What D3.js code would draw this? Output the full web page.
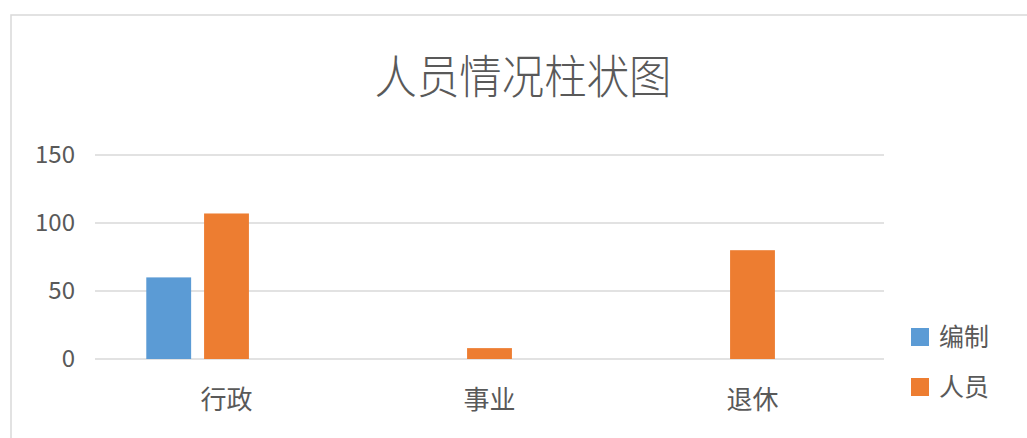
<!DOCTYPE html>
<html>
<head>
<meta charset="utf-8">
<script src="https://cdn.jsdelivr.net/npm/d3@7"></script>
<style>
  body { margin: 0; background: #fff; }
  text { font-family: "Noto Sans CJK SC", "Noto Sans", sans-serif; fill: #595959; }
</style>
</head>
<body>
<div id="chart"></div>
<script>
const categories = ["行政", "事业", "退休"]
const seriesNames = ["编制", "人员"]
const bianzhi = [60, 0, 0]
const renyuan = [107, 8, 80]
const yTicks = [0, 50, 100, 150]
const colors = ["#5B9BD5", "#ED7D31"]

const width = 1027
const height = 438
const margin = { top: 155, right: 143, bottom: 79, left: 95 }

const svg = d3.select("#chart").append("svg")
    .attr("width", width)
    .attr("height", height)

// chart border
svg.append("rect")
    .attr("x", 11).attr("y", 15)
    .attr("width", width + 10).attr("height", height + 10)
    .attr("fill", "none")
    .attr("stroke", "#d9d9d9")
    .attr("stroke-width", 1.5)

svg.append("text")
    .attr("x", 523).attr("y", 93)
    .attr("text-anchor", "middle")
    .attr("font-size", 46)
    .attr("font-weight", 300)
    .attr("textLength", 297)
    .attr("lengthAdjust", "spacingAndGlyphs")
    .text("人员情况柱状图")

const x0 = d3.scaleBand()
    .domain(categories)
    .range([margin.left, width - margin.right])
    .paddingInner(0.39)
    .paddingOuter(0.195)

// third empty slot keeps the group offset like the original
const x1 = d3.scaleBand()
    .domain([...seriesNames, "_"])
    .range([0, x0.bandwidth()])
    .paddingInner(0.224)

const y = d3.scaleLinear()
    .domain([0, 150])
    .range([height - margin.bottom, margin.top])

// gridlines
svg.append("g")
    .selectAll("line")
    .data(yTicks)
    .enter().append("line")
    .attr("x1", margin.left)
    .attr("x2", width - margin.right)
    .attr("y1", d => y(d))
    .attr("y2", d => y(d))
    .attr("stroke", "#d9d9d9")
    .attr("stroke-width", 1.5)

const yAxis = svg.append("g")
    .attr("transform", `translate(${margin.left - 20},0)`)
    .call(d3.axisLeft(y).tickValues(yTicks).tickSize(0).tickPadding(0))
yAxis.select(".domain").remove()
yAxis.selectAll("text")
    .attr("font-size", 24)
    .attr("font-family", "'Noto Sans', sans-serif")
    .attr("fill", "#595959")

const xAxis = svg.append("g")
    .attr("transform", `translate(0,${height - margin.bottom})`)
    .call(d3.axisBottom(x0).tickSize(0).tickPadding(32))
xAxis.select(".domain").remove()
xAxis.selectAll("text")
    .attr("font-size", 26)
    .attr("font-family", "'Noto Sans CJK SC', sans-serif")
    .attr("fill", "#595959")

const series = [bianzhi, renyuan]
series.forEach((vals, si) => {
    svg.append("g")
        .attr("fill", colors[si])
        .selectAll("rect")
        .data(vals)
        .enter().append("rect")
        .attr("x", (d, i) => x0(categories[i]) + x1(seriesNames[si]))
        .attr("y", d => y(d))
        .attr("width", x1.bandwidth())
        .attr("height", d => y(0) - y(d))
})

// legend
const legend = svg.append("g")
    .selectAll("g")
    .data(seriesNames)
    .enter().append("g")
    .attr("transform", (d, i) => `translate(911,${328 + i * 50})`)
legend.append("rect")
    .attr("width", 18).attr("height", 18)
    .attr("fill", (d, i) => colors[i])
legend.append("text")
    .attr("x", 28).attr("y", 9)
    .attr("dy", "0.35em")
    .attr("font-size", 25)
    .text(d => d)
</script>
</body>
</html>
